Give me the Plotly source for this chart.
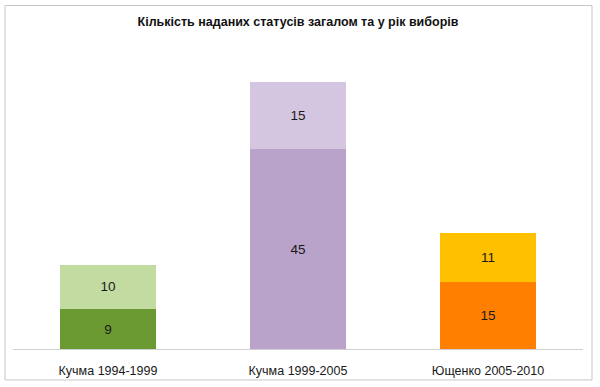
import plotly.graph_objects as go

categories = ["Кучма 1994-1999", "Кучма 1999-2005", "Ющенко 2005-2010"]
election_year = [9, 45, 15]
other_years = [10, 15, 11]
title_text = "Кількість наданих статусів загалом та у рік виборів"

bottom_colors = ["#6b9a33", "#b9a3ca", "#ff8000"]
top_colors = ["#c2dba0", "#d4c6e0", "#ffc000"]

W, H = 600, 387
L, R = 13, 583
T, B = 37.5, 349

fig = go.Figure()
fig.add_trace(go.Bar(
    x=categories, y=election_year, marker=dict(color=bottom_colors, line=dict(width=0)),
    text=election_year, textposition="inside", insidetextanchor="middle",
    textfont=dict(color="#1a1a1a", size=13.5, family="Liberation Sans"),
    width=0.51, hoverinfo="skip"))
fig.add_trace(go.Bar(
    x=categories, y=other_years, marker=dict(color=top_colors, line=dict(width=0)),
    text=other_years, textposition="inside", insidetextanchor="middle",
    textfont=dict(color="#1a1a1a", size=13.5, family="Liberation Sans"),
    width=0.51, hoverinfo="skip"))

ph = B - T
pw = R - L
fig.add_shape(type="rect", xref="paper", yref="paper",
              x0=(5 - L) / pw, x1=(592 - L) / pw,
              y0=(B - 380) / ph, y1=(B - 5) / ph,
              line=dict(color="#c6c6c6", width=1), fillcolor="rgba(0,0,0,0)", layer="below")

fig.update_layout(
    width=W, height=H, barmode="stack", showlegend=False,
    margin=dict(l=L, r=W - R, t=T, b=H - B, pad=0),
    paper_bgcolor="white", plot_bgcolor="white",
    title=dict(text="<b>" + title_text + "</b>", x=0.5, xref="paper", xanchor="center",
               y=1 - 22 / H, yref="container", yanchor="middle",
               font=dict(family="Liberation Sans", size=12.5, color="#111111")),
    xaxis=dict(showline=True, linecolor="#cfcfcf", linewidth=1, ticks="", showgrid=False,
               automargin=False, ticklabelstandoff=10,
               tickfont=dict(family="Liberation Sans", size=12.5, color="#1a1a1a")),
    yaxis=dict(range=[0, 70], visible=False, showgrid=False, zeroline=False),
    font=dict(family="Liberation Sans"),
)

fig.write_html("out.html", config={"displayModeBar": False},
               post_script="document.body.style.margin='0';document.body.style.overflow='hidden';")
